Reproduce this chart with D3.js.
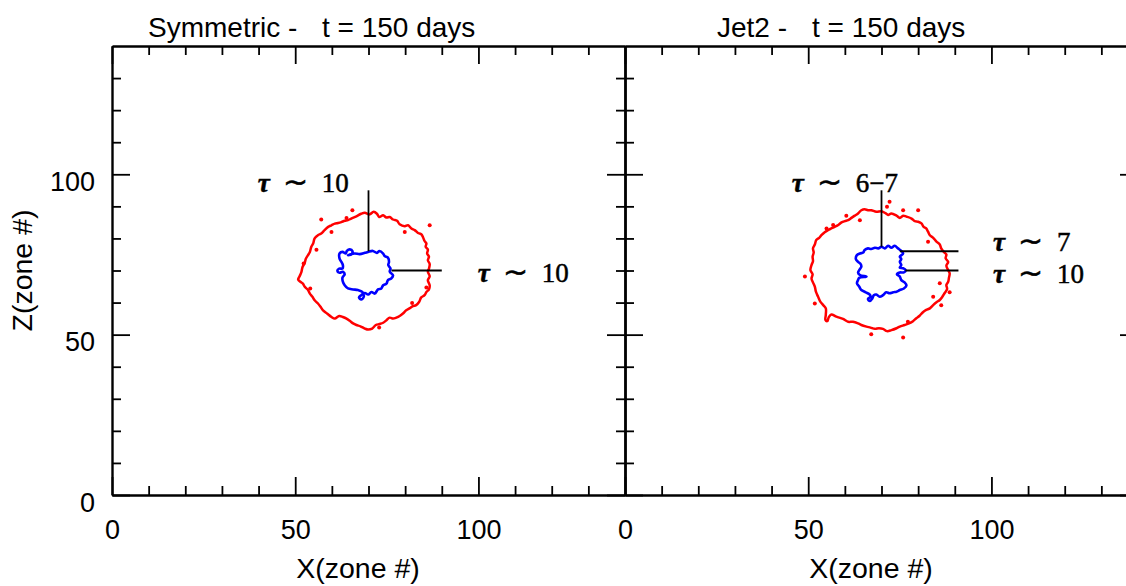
<!DOCTYPE html>
<html>
<head>
<meta charset="utf-8">
<script src="https://cdn.jsdelivr.net/npm/d3@7"></script>
<style>
  body { margin: 0; background: #fff; }
  svg { display: block; }
</style>
</head>
<body>
<svg id="chart" width="1126" height="586"></svg>
<script>
// axis ticks (zone numbers)
const majorTicks = [0, 50, 100];
const minorTicks = [10, 20, 30, 40, 60, 70, 80, 90, 110, 120, 130];
const panelNames = ['Symmetric -', 'Jet2 -'];
const timeLabel = 't = 150 days';

// tau ~ 10 contour, symmetric model (x, z in zones)
const symBlue = [[69.9,75.8],[71.2,76.1],[72.3,75.5],[73.0,76.1],[74.0,75.3],[74.4,74.5],[75.3,74.0],[75.6,72.7],
  [75.4,71.7],[76.0,70.6],[75.8,69.6],[76.7,68.5],[76.2,67.5],[75.3,67.0],[74.9,65.9],[74.0,65.4],[73.5,64.4],
  [72.6,64.1],[71.7,62.8],[70.8,63.3],[69.9,62.5],[69.0,63.0],[68.0,62.3],[67.4,61.6],[68.0,61.0],[68.7,61.8],
  [68.3,63.3],[67.1,63.9],[65.8,64.1],[64.4,64.4],[63.5,65.4],[63.0,66.5],[62.9,67.8],[63.5,68.8],[63.0,69.6],
  [62.1,69.3],[61.5,69.9],[62.0,70.6],[62.9,70.6],[63.0,71.7],[62.6,72.7],[62.1,73.7],[62.1,75.3],[62.9,75.8],
  [63.8,75.3],[64.1,76.1],[64.9,76.6],[65.6,76.1],[65.3,75.0],[64.4,74.8],[66.2,75.3],[67.6,75.1],[69.0,75.5]];

// outer (red) contour, symmetric model
const symRed = [[66.7,86.9],[68.0,87.7],[69.0,88.0],[70.3,87.5],[71.4,88.3],[72.3,87.7],[72.9,86.7],[74.0,87.2],
  [74.9,86.5],[75.8,86.7],[76.7,85.9],[77.8,85.5],[78.5,84.4],[79.9,83.8],[80.8,84.1],[81.7,83.1],[82.6,82.6],
  [83.5,81.7],[84.4,81.3],[84.9,80.3],[85.3,79.2],[85.8,78.4],[85.6,77.4],[86.2,76.5],[86.0,75.3],[86.5,74.3],
  [86.2,73.2],[86.7,72.0],[86.5,70.6],[86.2,69.6],[86.7,68.2],[86.2,67.0],[86.7,65.4],[86.5,64.1],[85.8,63.3],
  [85.3,62.3],[84.4,61.6],[83.8,60.2],[83.0,59.2],[82.1,58.9],[81.2,58.2],[80.3,57.6],[79.4,56.6],[78.5,55.8],
  [77.6,55.3],[76.7,55.0],[75.8,55.3],[74.9,54.5],[74.0,53.7],[73.0,53.3],[72.0,53.0],[71.0,51.9],[69.9,51.6],
  [69.0,51.9],[67.8,52.6],[66.7,53.0],[65.8,53.5],[64.9,54.3],[64.0,55.0],[63.0,55.5],[62.0,55.8],[60.8,55.0],
  [59.9,55.5],[58.7,56.6],[57.6,57.6],[56.9,58.7],[56.2,59.7],[55.3,60.7],[54.7,61.8],[54.0,62.8],[53.5,63.9],
  [52.6,64.9],[52.1,65.9],[51.4,66.5],[50.8,67.2],[51.2,68.2],[51.7,69.6],[52.0,71.1],[52.6,72.4],[52.9,73.7],
  [53.5,74.8],[54.0,75.8],[54.4,77.4],[54.9,78.4],[55.3,80.0],[56.2,81.0],[57.1,81.5],[58.0,82.6],[59.0,83.6],
  [59.9,84.1],[60.8,84.6],[61.7,84.8],[62.6,85.1],[63.5,85.5],[64.4,85.7],[65.3,86.2]];

const symDots = [[57.1,85.9],[59.9,82.0],[65.6,88.8],[86.7,84.1],[79.9,82.0],[52.3,72.2],[55.8,76.5],
  [81.9,59.9],[72.9,52.2],[54.1,64.4],[85.8,64.7],[64.0,86.4]];

// jet model
const jetBlue = [[70.0,77.4],[70.9,76.9],[71.8,77.7],[72.7,77.1],[73.6,77.7],[74.5,76.9],[75.4,76.1],[75.9,75.3],
  [75.0,74.3],[75.4,73.6],[75.0,72.7],[75.4,71.7],[75.0,70.9],[75.9,70.7],[76.6,70.1],[76.1,69.4],[75.0,69.4],
  [74.2,68.8],[75.0,68.1],[75.4,67.0],[76.3,66.3],[76.8,65.3],[76.1,64.4],[75.0,63.9],[74.1,63.4],[73.2,63.2],
  [72.2,62.9],[71.3,63.2],[70.4,62.3],[69.5,61.8],[68.6,62.5],[67.9,62.3],[67.5,61.3],[66.8,60.5],[66.3,61.1],
  [67.0,61.8],[66.8,62.5],[65.7,63.2],[64.5,63.9],[63.9,65.0],[63.3,66.0],[63.6,67.0],[63.9,67.7],[65.9,68.1],
  [64.1,68.6],[63.6,69.4],[64.1,70.4],[64.5,71.2],[64.2,72.2],[63.6,72.7],[63.0,73.6],[63.3,74.8],[64.1,75.3],
  [65.0,75.6],[65.4,76.4],[66.3,76.9],[67.2,76.7],[68.2,77.1],[69.1,76.9]];

const jetRed = [[67.2,88.8],[68.6,88.3],[70.0,88.5],[71.2,87.8],[71.8,87.3],[72.7,87.8],[74.1,87.1],[75.0,86.4],
  [75.9,87.1],[76.8,86.8],[78.2,86.2],[79.1,85.4],[80.0,85.2],[80.9,84.7],[81.5,83.6],[82.2,83.1],[82.7,82.1],
  [83.2,81.0],[84.1,80.2],[85.0,79.0],[85.9,78.1],[86.3,76.9],[87.0,75.8],[87.7,75.0],[87.5,73.8],[88.2,72.7],
  [87.7,71.5],[88.2,70.1],[88.6,69.1],[88.4,67.7],[88.2,66.5],[87.7,65.5],[87.9,64.2],[87.2,62.9],[86.6,61.8],
  [85.9,60.8],[85.0,60.1],[84.1,59.2],[83.2,58.2],[82.2,57.7],[81.3,57.0],[80.4,55.9],[79.5,55.1],[78.6,54.2],
  [77.5,53.5],[76.3,53.0],[75.0,52.5],[74.1,52.0],[72.7,51.4],[71.5,51.1],[70.4,51.8],[69.3,52.0],[68.2,51.8],
  [67.0,52.2],[65.9,52.5],[64.5,53.0],[63.6,53.5],[62.2,54.0],[60.9,54.0],[59.5,54.9],[57.7,55.6],[56.3,56.3],
  [55.6,55.4],[55.2,54.2],[54.7,54.6],[54.8,56.2],[54.8,58.2],[54.1,59.2],[53.3,60.3],[52.7,61.8],[52.1,63.4],
  [51.8,65.0],[51.3,66.3],[50.9,67.5],[51.2,68.8],[50.6,70.1],[50.9,71.7],[51.3,72.9],[51.2,74.3],[51.5,75.6],
  [51.3,76.9],[51.8,78.1],[52.2,79.5],[53.0,80.2],[53.6,81.0],[54.5,81.9],[55.4,82.6],[56.3,83.1],[57.2,83.6],
  [58.2,84.2],[59.1,85.0],[60.0,85.4],[60.9,85.7],[61.8,86.4],[62.7,87.1],[63.6,87.8],[64.5,88.8],[65.4,89.1],
  [66.3,88.8]];

const jetDots = [[72.2,91.4],[71.5,89.9],[75.9,88.8],[80.0,88.8],[82.7,79.0],[88.6,63.2],[85.9,66.0],
  [86.3,59.2],[84.1,61.8],[55.0,83.1],[56.8,84.2],[60.4,87.1],[64.1,85.7],[49.1,68.1],[51.8,59.7],
  [67.2,50.1],[75.9,49.1],[77.2,54.0]];

// optical depth markers: leader lines [x1, z1, x2, z2] and labels [x, z, text]
const symLeaders = [[70, 95, 70, 76], [76.3, 70, 90, 70]];
const symNotes = [[39.8, 94.5, '10'], [99.8, 66.3, '10']];
const jetLeaders = [[70, 95, 70, 77.4], [75, 76, 91, 76], [76.5, 70, 91, 70]];
const jetNotes = [[45.5, 94.5, '6\u22127'], [100.4, 76.0, '7'], [100.4, 66.0, '10']];

const panels = [
  { name: panelNames[0], blue: symBlue, red: symRed, dots: symDots, leaders: symLeaders, notes: symNotes, yLabels: true },
  { name: panelNames[1], blue: jetBlue, red: jetRed, dots: jetDots, leaders: jetLeaders, notes: jetNotes, yLabels: false }
];

const margin = { top: 46, left: 112 },
    width = 513,
    height = 449,
    sansFont = '"Liberation Sans", Arial, Helvetica, sans-serif',
    serifFont = '"Liberation Serif", "Times New Roman", serif';

const svg = d3.select('#chart');

function styleAxis(g) {
    g.attr('font-family', sansFont).attr('font-size', 27);
    g.select('.domain').attr('stroke', '#000').attr('stroke-width', 2.4);
    g.selectAll('.tick line').attr('stroke', '#000').attr('stroke-width', 1.8);
    g.selectAll('.tick text').attr('fill', '#000');
}

function drawPanel(p, i) {
    const x = d3.scaleLinear().domain([0, 140]).range([0, width]);
    const y = d3.scaleLinear().domain([0, 140]).range([height, 0]);
    const g = svg.append('g').attr('transform', 'translate(' + (margin.left + i * width) + ',' + margin.top + ')');

    // ticks on all four sides, pointing inward
    const sides = [
        [d3.axisBottom, 'translate(0,' + height + ')', x, true],
        [d3.axisTop, 'translate(0,0)', x, false],
        [d3.axisLeft, 'translate(0,0)', y, p.yLabels],
        [d3.axisRight, 'translate(' + width + ',0)', y, false]
    ];
    sides.forEach(function (s) {
        const maker = s[0], scale = s[2], labels = s[3];
        const ax = maker(scale).tickValues(majorTicks).tickSize(-18).tickSizeOuter(0)
            .tickFormat(labels ? d3.format('d') : '');
        if (maker === d3.axisBottom) ax.tickPadding(25);
        else ax.tickPadding(17);
        g.append('g').attr('transform', s[1]).call(ax).call(styleAxis)
            .call(function (a) {
                if (maker === d3.axisLeft) a.selectAll('.tick text').attr('dy', '0.6em');
            });
        g.append('g').attr('transform', s[1])
            .call(maker(scale).tickValues(minorTicks).tickSize(-9).tickSizeOuter(0).tickFormat(''))
            .call(styleAxis)
            .call(function (a) { a.select('.domain').remove(); });
    });

    // title
    g.append('text').attr('x', i === 0 ? 36 : 92).attr('y', -9)
        .attr('font-family', sansFont).attr('font-size', 28).text(p.name);
    g.append('text').attr('x', i === 0 ? 210 : 187).attr('y', -9)
        .attr('font-family', sansFont).attr('font-size', 28).text(timeLabel);

    // x title
    g.append('text').attr('x', 246).attr('y', height + 83).attr('text-anchor', 'middle')
        .attr('font-family', sansFont).attr('font-size', 28.5).text('X(zone #)');

    const line = d3.line().x(function (d) { return x(d[0]); }).y(function (d) { return y(d[1]); })
        .curve(d3.curveCatmullRomClosed);

    g.append('path').datum(p.red).attr('d', line)
        .attr('fill', 'none').attr('stroke', '#ff0000').attr('stroke-width', 2.5);
    g.append('path').datum(p.blue).attr('d', line)
        .attr('fill', 'none').attr('stroke', '#0000ff').attr('stroke-width', 2.6);
    g.selectAll('.dot').data(p.dots).enter().append('circle')
        .attr('cx', function (d) { return x(d[0]); })
        .attr('cy', function (d) { return y(d[1]); })
        .attr('r', 2).attr('fill', '#ff0000');

    g.selectAll('.leader').data(p.leaders).enter().append('line')
        .attr('x1', function (d) { return x(d[0]); }).attr('y1', function (d) { return y(d[1]); })
        .attr('x2', function (d) { return x(d[2]); }).attr('y2', function (d) { return y(d[3]); })
        .attr('stroke', '#000').attr('stroke-width', 1.8);

    p.notes.forEach(function (n) {
        const t = g.append('text').attr('x', x(n[0])).attr('y', y(n[1]))
            .attr('font-family', serifFont).attr('font-size', 27)
            .attr('stroke', '#000').attr('stroke-width', 0.5)
            .style('white-space', 'pre');
        t.append('tspan').attr('font-style', 'italic').attr('font-weight', 'bold').text('\u03c4');
        t.append('tspan').text('  ');
        t.append('tspan').attr('font-size', 30).text('\u223c');
        t.append('tspan').text('  ' + n[2]);
    });
}

panels.forEach(drawPanel);

// shared y title
svg.append('text').attr('transform', 'translate(32,' + (margin.top + height / 2) + ') rotate(-90)')
    .attr('text-anchor', 'middle').attr('font-family', sansFont).attr('font-size', 28.5).text('Z(zone #)');
</script>
</body>
</html>
